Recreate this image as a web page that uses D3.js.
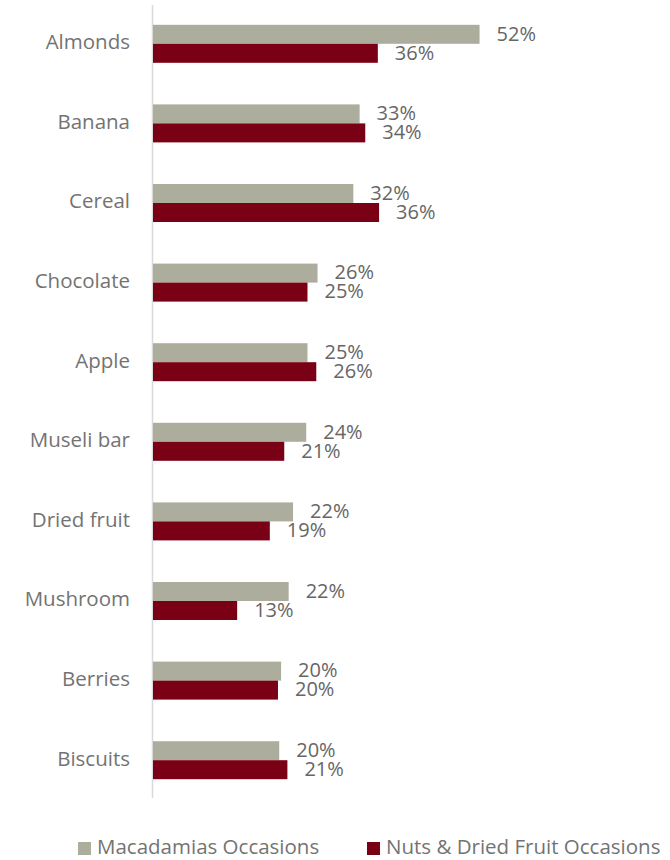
<!DOCTYPE html>
<html><head><meta charset="utf-8">
<script src="https://cdn.jsdelivr.net/npm/d3@7"></script>
<style>body{margin:0;background:#fff}svg{display:block}</style>
</head><body>
<svg id="c" width="670" height="860"></svg>
<script>
const categories = ["Almonds","Banana","Cereal","Chocolate","Apple","Museli bar","Dried fruit","Mushroom","Berries","Biscuits"];
const macadamias = [52.0, 32.9, 31.9, 26.2, 24.6, 24.4, 22.3, 21.6, 20.4, 20.1];
const nutsDried  = [35.8, 33.8, 36.0, 24.6, 26.0, 20.9, 18.6, 13.4, 19.9, 21.4];
const seriesNames = ["Macadamias Occasions","Nuts & Dried Fruit Occasions"];
const colors = ["#ADAD9D","#7A0016"];
const FONT = "'Open Sans',sans-serif";

const svg = d3.select("#c");
const x = d3.scaleLinear().domain([0, 100]).range([153, 153 + 628]);
const y = d3.scaleBand().domain(categories).range([4, 800]);
const series = [macadamias, nutsDried];
const sub = d3.scaleBand().domain([0,1]).range([0, 38]);

// axis line
svg.append("line").attr("x1",152.5).attr("x2",152.5).attr("y1",5).attr("y2",798)
  .attr("stroke","#D9D9D9").attr("stroke-width",1.5);

const g = svg.append("g");
categories.forEach((c, i) => {
  const cy = y(c) + y.bandwidth()/2;
  const top = cy - 19;
  series.forEach((s, k) => {
    const by = top + sub(k);
    g.append("rect").attr("x", x(0)).attr("y", by)
      .attr("width", x(s[i]) - x(0)).attr("height", sub.bandwidth())
      .attr("fill", colors[k]);
    g.append("text").attr("x", x(s[i]) + 17).attr("y", by + sub.bandwidth()/2 + 1)
      .attr("dominant-baseline","middle")
      .attr("font-family", FONT).attr("font-size", 20).attr("fill","#666666")
      .text(Math.round(s[i]) + "%");
  });
  g.append("text").attr("x", 130).attr("y", cy)
    .attr("text-anchor","end").attr("dominant-baseline","middle")
    .attr("font-family", FONT).attr("font-size", 20.5).attr("fill","#737373")
    .text(c);
});

// legend
const legX = [78, 367];
seriesNames.forEach((n, k) => {
  svg.append("rect").attr("x", legX[k]).attr("y", 842).attr("width", 13).attr("height", 13).attr("fill", colors[k]);
  svg.append("text").attr("x", legX[k] + 19).attr("y", 849)
    .attr("dominant-baseline","middle")
    .attr("font-family", FONT).attr("font-size", 20.5).attr("fill","#737373")
    .text(n);
});
</script>
</body></html>
